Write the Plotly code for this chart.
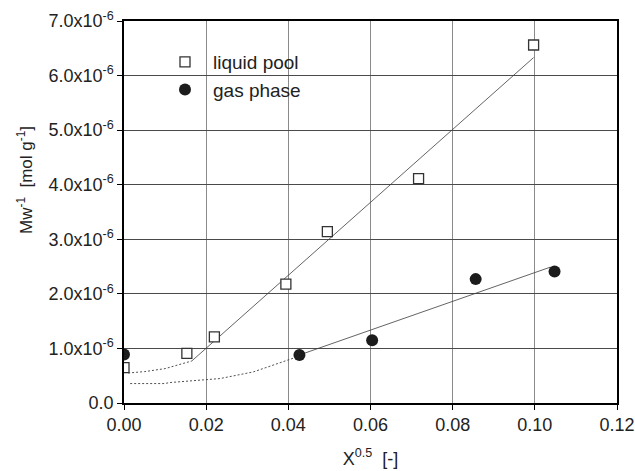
import plotly.graph_objects as go

# Measured points: X^0.5 [-] vs Mw^-1 [mol g^-1]
liquid_x = [0.0, 0.0153, 0.0220, 0.0394, 0.0495, 0.0717, 0.0997]
liquid_y = [0.65e-6, 0.91e-6, 1.21e-6, 2.18e-6, 3.14e-6, 4.11e-6, 6.56e-6]

gas_x = [0.0, 0.0427, 0.0604, 0.0856, 0.1048]
gas_y = [0.89e-6, 0.88e-6, 1.15e-6, 2.27e-6, 2.41e-6]

# Fitted trends: linear part (solid) and low-concentration part (dotted)
liquid_fit_x = [0.0165, 0.0997]
liquid_fit_y = [0.77e-6, 6.33e-6]
liquid_low_x = [0.001, 0.005, 0.010, 0.0165]
liquid_low_y = [0.55e-6, 0.575e-6, 0.63e-6, 0.77e-6]

gas_fit_x = [0.0427, 0.1038]
gas_fit_y = [0.88e-6, 2.49e-6]
gas_low_x = [0.0015, 0.0098, 0.0112, 0.0234, 0.0315, 0.0427]
gas_low_y = [0.356e-6, 0.356e-6, 0.375e-6, 0.448e-6, 0.57e-6, 0.86e-6]

y_ticks = [0, 1e-6, 2e-6, 3e-6, 4e-6, 5e-6, 6e-6, 7e-6]
y_tick_text = ["0.0"] + [f"{v*1e6:.1f}x10<sup>-6</sup>" for v in y_ticks[1:]]
x_ticks = [0.0, 0.02, 0.04, 0.06, 0.08, 0.10, 0.12]
x_tick_text = [f"{v:.2f}" for v in x_ticks]

LINE = "#3c3c3c"
INK = "#1c1c1c"

fig = go.Figure()

fig.add_trace(go.Scatter(x=liquid_low_x, y=liquid_low_y, mode="lines",
                         line=dict(color=LINE, width=0.9, dash="2px,2px"),
                         showlegend=False, hoverinfo="skip"))
fig.add_trace(go.Scatter(x=liquid_fit_x, y=liquid_fit_y, mode="lines",
                         line=dict(color=LINE, width=0.8),
                         showlegend=False, hoverinfo="skip"))
fig.add_trace(go.Scatter(x=gas_low_x, y=gas_low_y, mode="lines",
                         line=dict(color=LINE, width=0.9, dash="2px,2px"),
                         showlegend=False, hoverinfo="skip"))
fig.add_trace(go.Scatter(x=gas_fit_x, y=gas_fit_y, mode="lines",
                         line=dict(color=LINE, width=0.8),
                         showlegend=False, hoverinfo="skip"))

fig.add_trace(go.Scatter(x=liquid_x, y=liquid_y, mode="markers", name="liquid pool",
                         legendgroup="a",
                         marker=dict(symbol="square", size=10, color="white",
                                     line=dict(color="#333333", width=1.3))))
fig.add_trace(go.Scatter(x=gas_x, y=gas_y, mode="markers", name="gas phase",
                         legendgroup="b",
                         marker=dict(symbol="circle", size=12, color=INK,
                                     line=dict(width=0))))

# white panel behind the legend, above the grid
fig.add_shape(type="rect", xref="paper", yref="paper", layer="between",
              x0=(140 - 124) / 493, x1=(320 - 124) / 493,
              y0=(403 - 108) / 382, y1=(403 - 42) / 382,
              fillcolor="white", line=dict(width=0))

# y-axis label, set a little above the middle of the axis
fig.add_annotation(text="Mw<sup>-1</sup>  [mol g<sup>-1</sup>]",
                   xref="paper", yref="paper",
                   x=(25 - 124) / 493, y=(403 - 180) / 382,
                   xanchor="center", yanchor="middle", textangle=-90,
                   showarrow=False, font=dict(size=17, color="#222222"))

font = "Liberation Sans, Arial, sans-serif"

fig.update_layout(
    width=635, height=471,
    margin=dict(l=124, r=18, t=21, b=68),
    paper_bgcolor="white", plot_bgcolor="white",
    font=dict(family=font, size=18, color="#222222"),
    showlegend=True,
    legend=dict(x=(157 - 124) / 493, y=(403 - 43) / 382, xanchor="left", yanchor="top",
                bgcolor="rgba(0,0,0,0)", borderwidth=0,
                font=dict(size=19, color="#222222"),
                tracegroupgap=0, itemwidth=46),
    xaxis=dict(range=[0, 0.12], tickvals=x_ticks, ticktext=x_tick_text,
               showgrid=True, gridcolor="#8a8a8a", gridwidth=1,
               showline=True, linecolor="black", linewidth=1.5, mirror=True,
               ticks="outside", ticklen=5, tickwidth=1.3, tickcolor="black",
               zeroline=False, tickfont=dict(size=18), automargin=False,
               title=dict(text="X<sup>0.5</sup>  [-]", standoff=18,
                          font=dict(size=18))),
    yaxis=dict(range=[0, 7e-6], tickvals=y_ticks, ticktext=y_tick_text,
               showgrid=True, gridcolor="#4a4a4a", gridwidth=1.1,
               showline=True, linecolor="black", linewidth=1.5, mirror=True,
               ticks="outside", ticklen=5, tickwidth=1.3, tickcolor="black",
               zeroline=False, tickfont=dict(size=18), automargin=False),
)

fig.write_html("out.html")
